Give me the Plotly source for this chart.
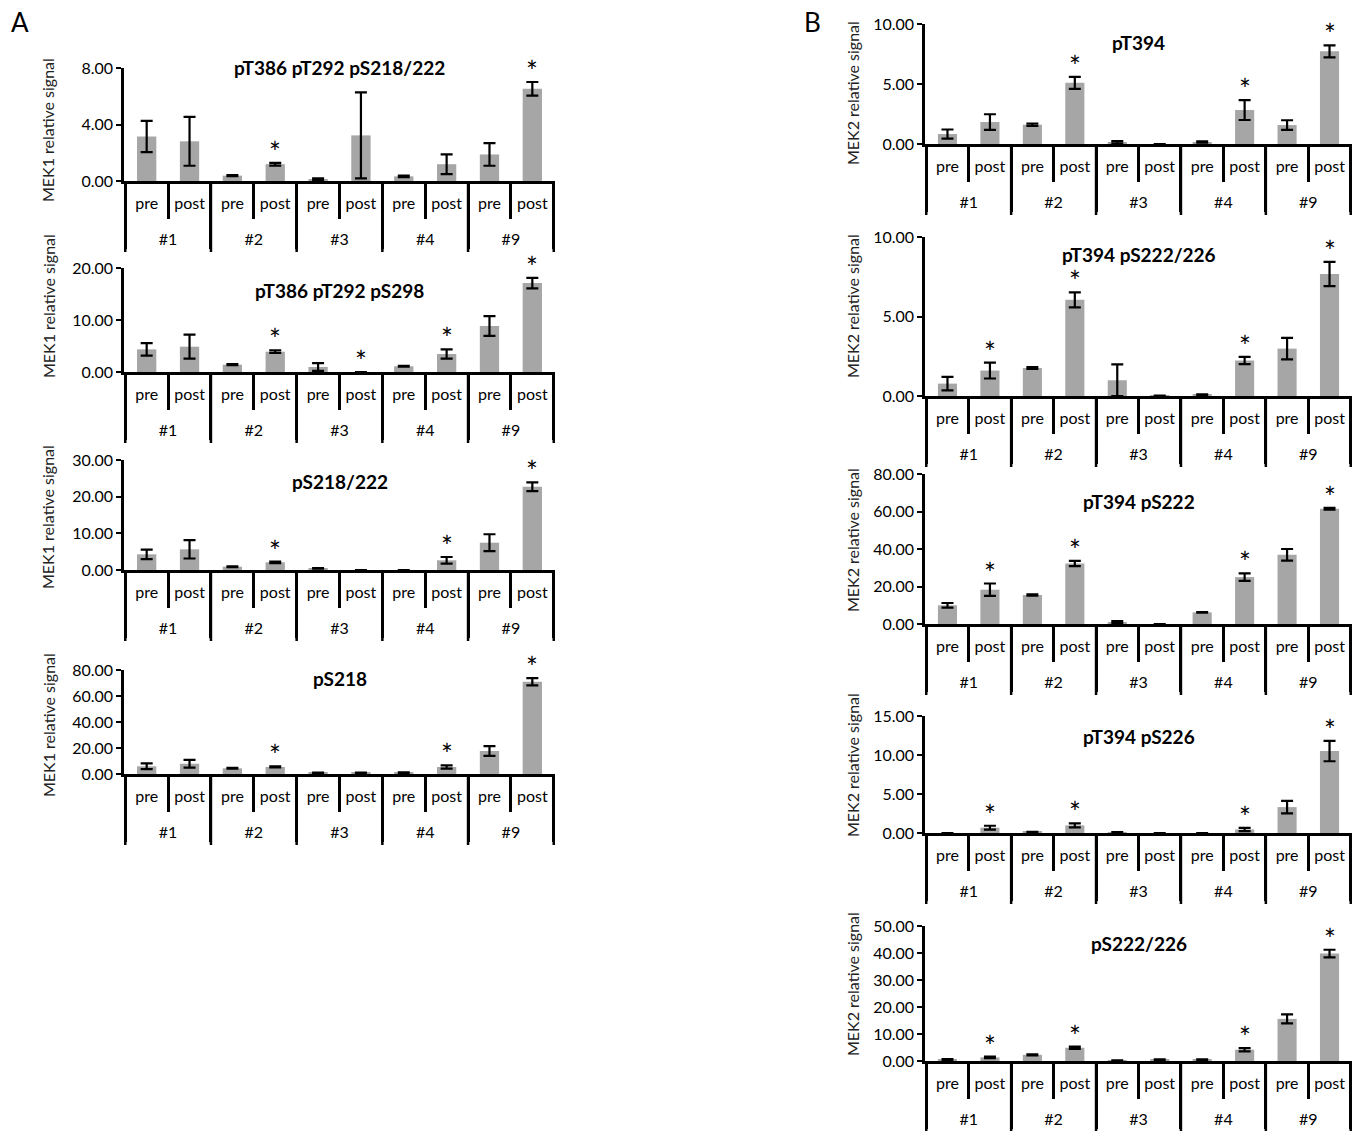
import plotly.graph_objects as go

W, H = 1361, 1131

groups = ["#1", "#2", "#3", "#4", "#9"]
conds = ["pre", "post"]

# ---- Panel A (MEK1) ----
a1_title = "pT386 pT292 pS218/222"
a1_vals = [3.15, 2.81, 0.38, 1.19, 0.10, 3.23, 0.33, 1.19, 1.88, 6.53]
a1_errs = [1.10, 1.73, 0.04, 0.10, 0.08, 3.05, 0.05, 0.70, 0.80, 0.48]
a1_sig = [0, 0, 0, 1, 0, 0, 0, 0, 0, 1]

a2_title = "pT386 pT292 pS298"
a2_vals = [4.36, 4.87, 1.41, 3.90, 0.96, 0.00, 1.09, 3.46, 8.85, 17.10]
a2_errs = [1.20, 2.30, 0.10, 0.25, 0.75, 0.00, 0.08, 0.90, 1.90, 1.00]
a2_sig = [0, 0, 0, 1, 0, 1, 0, 1, 0, 1]

a3_title = "pS218/222"
a3_vals = [4.27, 5.64, 0.90, 2.10, 0.45, 0.00, 0.00, 2.64, 7.45, 22.70]
a3_errs = [1.30, 2.50, 0.10, 0.20, 0.05, 0.00, 0.00, 0.90, 2.30, 1.20]
a3_sig = [0, 0, 0, 1, 0, 0, 0, 1, 0, 1]

a4_title = "pS218"
a4_vals = [5.9, 7.9, 4.4, 5.4, 0.8, 0.8, 1.0, 5.4, 17.7, 71.0]
a4_errs = [2.2, 3.0, 0.3, 0.4, 0.3, 0.3, 0.3, 1.3, 3.8, 2.8]
a4_sig = [0, 0, 0, 1, 0, 0, 0, 1, 0, 1]

# ---- Panel B (MEK2) ----
b1_title = "pT394"
b1_vals = [0.83, 1.83, 1.61, 5.10, 0.14, 0.00, 0.17, 2.83, 1.58, 7.72]
b1_errs = [0.38, 0.65, 0.10, 0.50, 0.10, 0.00, 0.05, 0.83, 0.40, 0.50]
b1_sig = [0, 0, 0, 1, 0, 0, 0, 1, 0, 1]

b2_title = "pT394 pS222/226"
b2_vals = [0.78, 1.60, 1.76, 6.05, 0.99, 0.02, 0.08, 2.23, 2.98, 7.67]
b2_errs = [0.42, 0.50, 0.06, 0.47, 1.00, 0.00, 0.03, 0.23, 0.68, 0.76]
b2_sig = [0, 1, 0, 1, 0, 0, 0, 1, 0, 1]

b3_title = "pT394 pS222"
b3_vals = [9.95, 18.3, 15.45, 32.3, 0.9, 0.0, 6.2, 25.0, 36.9, 61.5]
b3_errs = [1.25, 3.3, 0.3, 1.4, 0.6, 0.0, 0.2, 2.0, 3.1, 0.5]
b3_sig = [0, 1, 0, 1, 0, 0, 0, 1, 0, 1]

b4_title = "pT394 pS226"
b4_vals = [0.00, 0.68, 0.13, 0.98, 0.08, 0.00, 0.00, 0.45, 3.32, 10.50]
b4_errs = [0.00, 0.25, 0.03, 0.25, 0.02, 0.00, 0.00, 0.20, 0.80, 1.30]
b4_sig = [0, 1, 0, 1, 0, 0, 0, 1, 0, 1]

b5_title = "pS222/226"
b5_vals = [0.5, 1.35, 2.3, 4.9, 0.2, 0.5, 0.5, 4.2, 15.6, 39.8]
b5_errs = [0.2, 0.3, 0.2, 0.4, 0.05, 0.15, 0.15, 0.6, 1.7, 1.4]
b5_sig = [0, 1, 0, 1, 0, 0, 0, 1, 0, 1]

mek1_label = "MEK1 relative signal"
mek2_label = "MEK2 relative signal"

# layout config (pixels): title, vals, errs, sig, ylabel, ymax, dtick,
# plot left, plot right, plot top, zero line, chart-title y, y-label x, y-label y
charts = [
    (a1_title, a1_vals, a1_errs, a1_sig, mek1_label, 8, 4, 124, 555, 68, 181, 68, 48, 130),
    (a2_title, a2_vals, a2_errs, a2_sig, mek1_label, 20, 10, 124, 555, 268, 372, 290, 48, 306),
    (a3_title, a3_vals, a3_errs, a3_sig, mek1_label, 30, 10, 124, 555, 460, 570, 481, 48, 517),
    (a4_title, a4_vals, a4_errs, a4_sig, mek1_label, 80, 20, 124, 555, 670, 774, 678, 48, 725),
    (b1_title, b1_vals, b1_errs, b1_sig, mek2_label, 10, 5, 925, 1352, 24, 144, 42, 852, 93),
    (b2_title, b2_vals, b2_errs, b2_sig, mek2_label, 10, 5, 925, 1352, 237, 396, 255, 852, 306),
    (b3_title, b3_vals, b3_errs, b3_sig, mek2_label, 80, 20, 925, 1352, 474, 624, 501, 852, 540),
    (b4_title, b4_vals, b4_errs, b4_sig, mek2_label, 15, 5, 925, 1352, 716, 833, 736, 852, 765),
    (b5_title, b5_vals, b5_errs, b5_sig, mek2_label, 50, 10, 925, 1352, 926, 1061, 943, 852, 984),
]

FONT = "Lato, 'Open Sans', sans-serif"
BAR = "#a6a6a6"
PAD = "<br>\u00a0"  # blank line under the inner labels pushes the group row down
DIV_LEN = 71        # px length of the group divider lines below the axis

xcat = [[g for g in groups for c in conds], [c + PAD for g in groups for c in conds]]
n_in = len(conds)

fig = go.Figure()
annotations = []
shapes = []
layout_axes = {}

for i, (title, vals, errs, sig, ylab, ymax, dtick, xl, xr, yt, y0, typ, ylx, yly) in enumerate(charts):
    n = i + 1
    xa = "x" if n == 1 else f"x{n}"
    ya = "y" if n == 1 else f"y{n}"
    fig.add_trace(go.Bar(
        x=xcat, y=vals, xaxis=xa, yaxis=ya,
        marker=dict(color=BAR, line=dict(width=0)),
        error_y=dict(type="data", array=errs, visible=True, color="black",
                     thickness=2.2, width=6),
        showlegend=False, hoverinfo="skip",
    ))
    # significance stars above the error bars (category index positions)
    for k in range(len(vals)):
        if sig[k]:
            annotations.append(dict(
                text="*", xref=xa, yref=ya, x=k, y=vals[k] + errs[k],
                xanchor="center", yanchor="middle", yshift=11, showarrow=False,
                font=dict(size=28, color="black", family=FONT),
            ))
    # group divider lines (at category boundaries) reaching below the label rows
    for g in range(len(groups) + 1):
        shapes.append(dict(
            type="line", xref=xa, yref="paper",
            x0=g * n_in - 0.5, x1=g * n_in - 0.5,
            y0=1 - y0 / H, y1=1 - (y0 + DIV_LEN) / H,
            line=dict(color="black", width=2.5),
        ))
    xkey = "xaxis" if n == 1 else f"xaxis{n}"
    ykey = "yaxis" if n == 1 else f"yaxis{n}"
    layout_axes[xkey] = dict(
        type="multicategory", anchor=ya, automargin=False,
        domain=[xl / W, xr / W],
        showline=True, linecolor="black", linewidth=2.5,
        ticks="outside", ticklen=35, tickwidth=2.5, tickcolor="black",
        showdividers=True, dividercolor="black", dividerwidth=2.5,
        tickfont=dict(size=16, color="black", family=FONT),
        ticklabelstandoff=6,
        showgrid=False, zeroline=False,
    )
    layout_axes[ykey] = dict(
        anchor=xa, automargin=False, domain=[1 - y0 / H, 1 - yt / H],
        range=[0, ymax], dtick=dtick, tick0=0, tickformat=".2f",
        showline=True, linecolor="black", linewidth=2.5,
        ticks="outside", ticklen=5, tickwidth=2, tickcolor="black",
        tickfont=dict(size=16, color="black", family=FONT),
        showgrid=False, zeroline=False,
    )
    annotations.append(dict(
        text=f"<b>{title}</b>", xref="paper", yref="paper",
        x=(xl + xr) / 2 / W, y=1 - typ / H, xanchor="center", yanchor="middle",
        showarrow=False, font=dict(size=19, color="black", family=FONT),
    ))
    annotations.append(dict(
        text=ylab, xref="paper", yref="paper", textangle=-90,
        x=ylx / W, y=1 - yly / H, xanchor="center", yanchor="middle",
        showarrow=False, font=dict(size=16, color="#222", family=FONT),
    ))

annotations.append(dict(text="A", xref="paper", yref="paper", x=9 / W, y=1 - 22 / H,
                        xanchor="left", yanchor="middle", showarrow=False,
                        font=dict(size=26, color="black", family=FONT)))
annotations.append(dict(text="B", xref="paper", yref="paper", x=802 / W, y=1 - 22 / H,
                        xanchor="left", yanchor="middle", showarrow=False,
                        font=dict(size=26, color="black", family=FONT)))

fig.update_layout(
    width=W, height=H, margin=dict(l=0, r=0, t=0, b=0, autoexpand=False),
    paper_bgcolor="white", plot_bgcolor="white",
    bargap=0.55, annotations=annotations, shapes=shapes,
    font=dict(family=FONT, color="black"),
    **layout_axes,
)

fig.write_html("out.html", config={"displayModeBar": False},
               post_script="document.body.style.margin='0px';")
